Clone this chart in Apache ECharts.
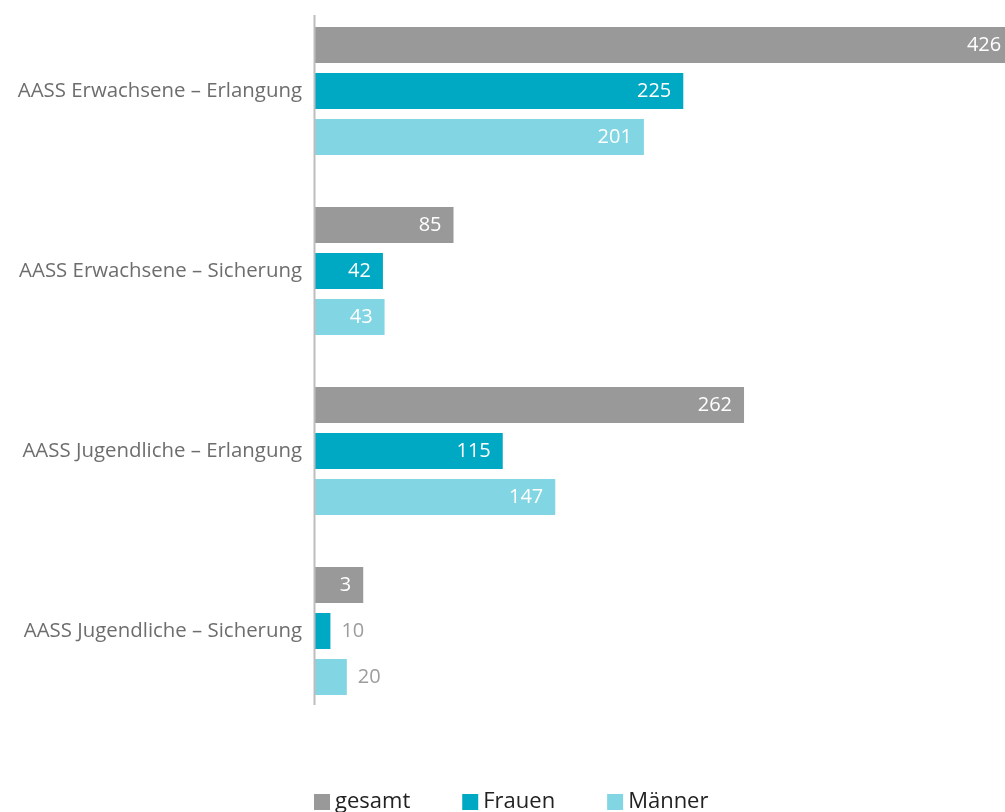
<!DOCTYPE html>
<html>
<head>
<meta charset="utf-8">
<script src="https://cdn.jsdelivr.net/npm/echarts@6/dist/echarts.min.js"></script>
<style>
  html, body { margin: 0; padding: 0; background: #fff; }
  #main { width: 1005px; height: 812px; }
</style>
</head>
<body>
<div id="main"></div>
<script>
var categories = [
  'AASS Erwachsene – Erlangung',
  'AASS Erwachsene – Sicherung',
  'AASS Jugendliche – Erlangung',
  'AASS Jugendliche – Sicherung'
];
var gesamt = [426, 85, 262, 30];
var gesamtLabels = ['426', '85', '262', '3'];
var frauen = [225, 42, 115, 10];
var maenner = [201, 43, 147, 20];

var colors = ['#999999', '#00a9c3', '#82d5e3'];
var fontFamily = '"Open Sans", "DejaVu Sans", sans-serif';

// kleine Werte: Beschriftung grau rechts neben dem Balken
function toData(values, labels) {
  return values.map(function (v, i) {
    var item = { value: v };
    if (labels) item.labelText = labels[i];
    if (v < 25) {
      item.label = { position: 'right', color: '#9d9d9d', distance: 11 };
    }
    return item;
  });
}

function makeSeries(name, values, color, labels) {
  return {
    name: name,
    type: 'bar',
    barWidth: 36,
    barGap: '28%',
    clip: false,
    itemStyle: { color: color },
    label: {
      show: true,
      position: 'insideRight',
      distance: 12,
      color: '#fff',
      fontSize: 20,
      fontFamily: fontFamily,
      formatter: function (p) {
        return p.data.labelText != null ? p.data.labelText : p.value;
      }
    },
    data: toData(values, labels)
  };
}

var myChart = echarts.init(document.getElementById('main'));

var option = {
  animation: false,
  color: colors,
  grid: { left: 314, right: 0, top: 1, height: 720 },
  legend: {
    left: 309,
    top: 786,
    itemWidth: 16,
    itemHeight: 16,
    itemGap: 52,
    icon: 'rect',
    textStyle: { fontSize: 22, color: '#222', fontFamily: fontFamily, padding: [0, 0, 0, 0] },
    data: ['gesamt', 'Frauen', 'Männer']
  },
  xAxis: {
    type: 'value',
    min: 0,
    max: 421,
    show: false
  },
  yAxis: {
    type: 'category',
    inverse: true,
    data: categories,
    axisLine: { show: false },
    axisTick: { show: false },
    axisLabel: {
      margin: 12,
      fontSize: 20.4,
      color: '#6d6d6d',
      fontFamily: fontFamily
    }
  },
  graphic: [{
    type: 'line',
    shape: { x1: 314.5, y1: 15, x2: 314.5, y2: 705 },
    style: { stroke: '#bdbdbd', lineWidth: 2 },
    z: 10
  }],
  series: [
    makeSeries('gesamt', gesamt, colors[0], gesamtLabels),
    makeSeries('Frauen', frauen, colors[1]),
    makeSeries('Männer', maenner, colors[2])
  ]
};

myChart.setOption(option);
</script>
</body>
</html>
